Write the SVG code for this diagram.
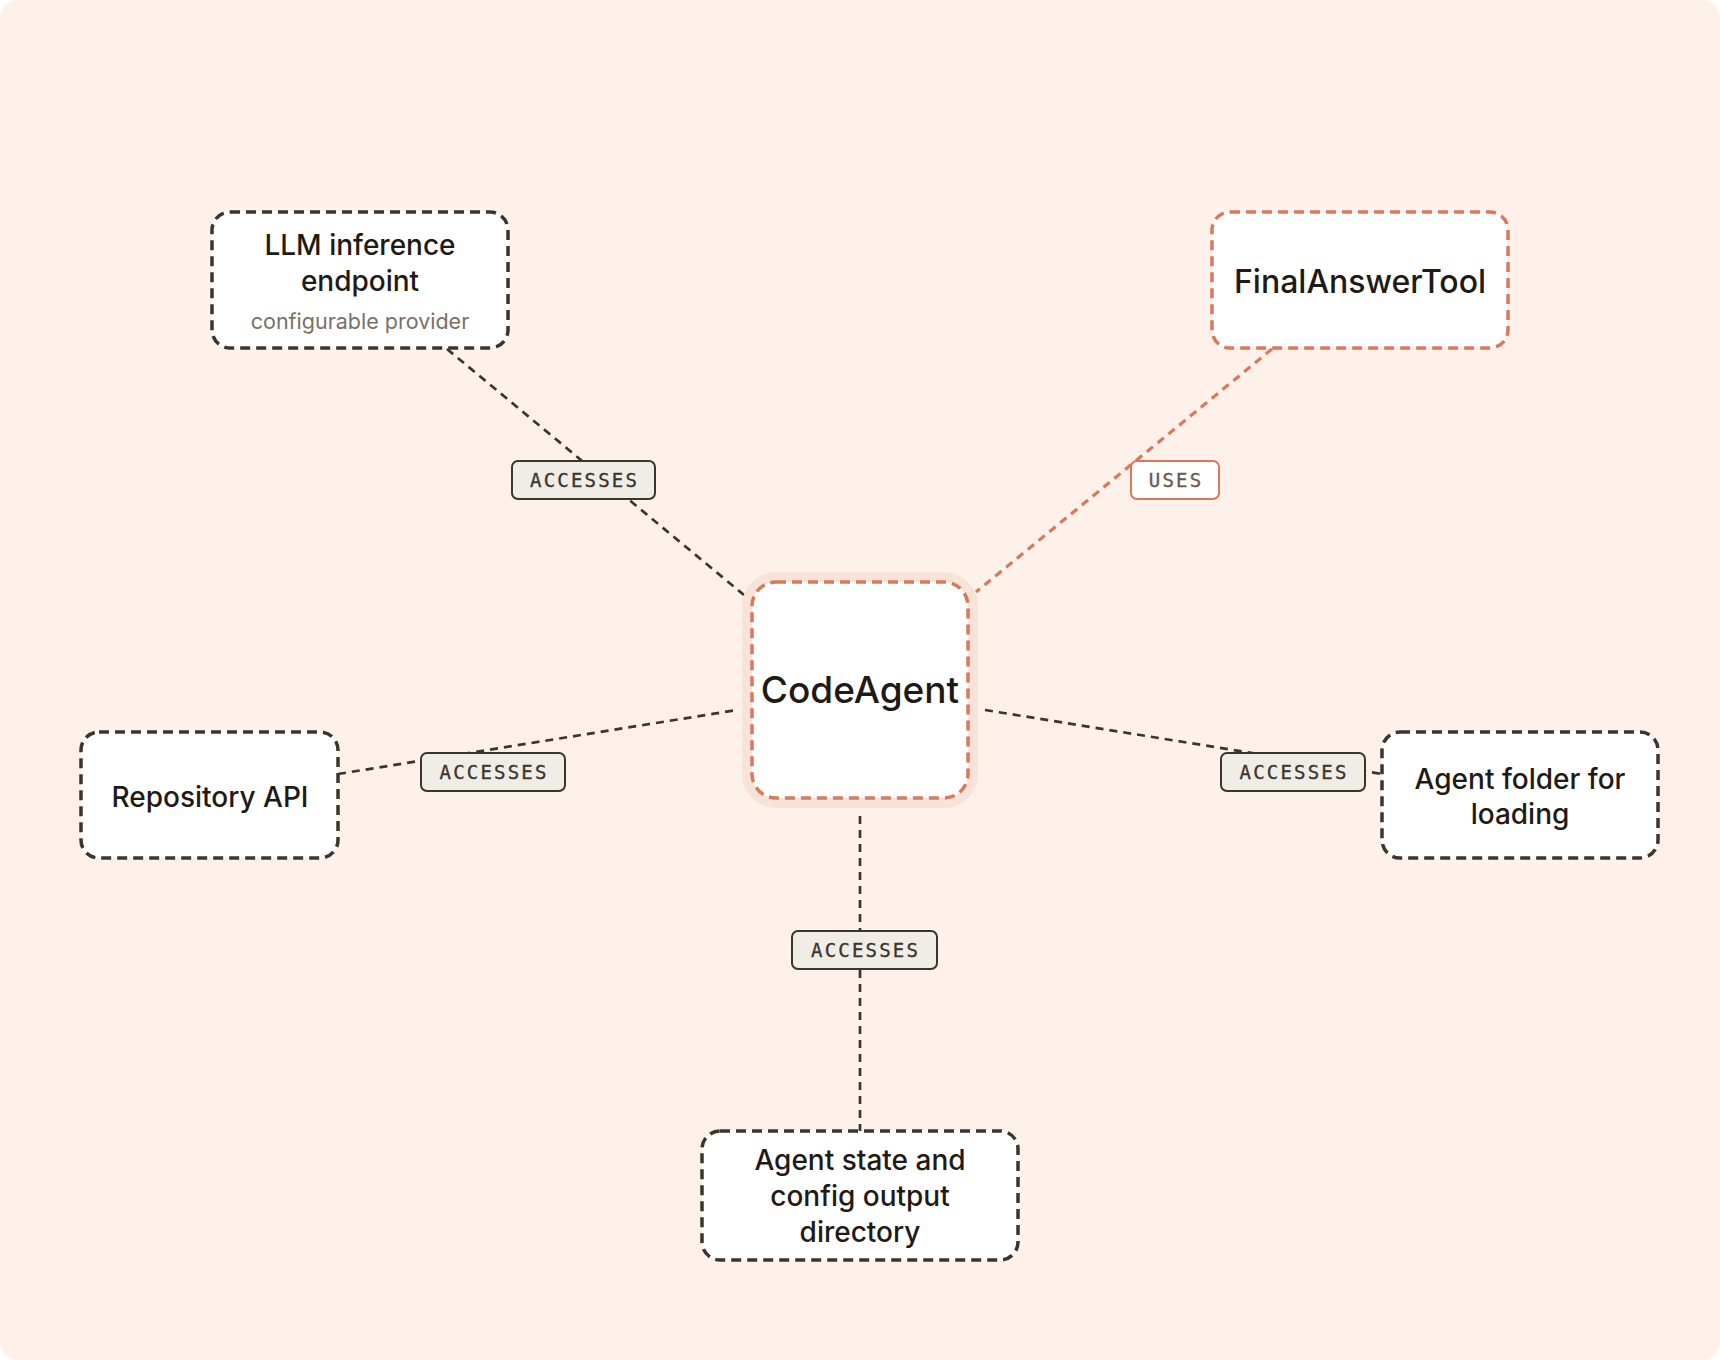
<svg xmlns="http://www.w3.org/2000/svg" width="1720" height="1360" viewBox="0 0 1720 1360">
<style>
.node{fill:#FFFFFF;stroke:#3A3530;stroke-width:3.5;stroke-dasharray:10 6}
.accent{stroke:#D9785A}
.t{font-family:Inter,"Noto Sans","Liberation Sans",sans-serif;font-weight:500;fill:#1F1A15;text-anchor:middle}
.sub{font-family:Inter,"Noto Sans","Liberation Sans",sans-serif;font-size:21.5px;fill:#7A7068;text-anchor:middle}
.edge{fill:none;stroke:#3A3530;stroke-width:2.7;stroke-dasharray:8 6}
.edge.o{stroke:#D9785A;stroke-width:3.2}
.lbl{fill:#F0EDE7;stroke:#3A3530;stroke-width:2}
.lbl.o{fill:#FFFFFF;stroke:#D9785A}
.lt{font-family:"DejaVu Sans Mono","Liberation Mono",monospace;font-size:19px;letter-spacing:2.2px;fill:#3A3530;text-anchor:middle;stroke:#3A3530;stroke-width:0.35}
.lt.o{fill:#6B5A50;stroke:#6B5A50}
</style>
<rect x="0" y="0" width="1720" height="1360" fill="#FFFFFF"/>
<rect x="0" y="0" width="1720" height="1360" rx="18" fill="#FEF1EA"/>
<g id="connectors">
<line class="edge" x1="447" y1="349" x2="744" y2="595"/>
<line class="edge o" x1="1272" y1="349" x2="976" y2="592"/>
<line class="edge" x1="338" y1="774" x2="737" y2="710"/>
<line class="edge" x1="985" y1="710" x2="1382" y2="774"/>
<line class="edge" x1="860" y1="816" x2="860" y2="1131"/>
<g id="label-llm"><rect class="lbl" x="512" y="461" width="143" height="38" rx="6"/><text class="lt" x="584.6" y="487">ACCESSES</text></g>
<g id="label-uses"><rect class="lbl o" x="1131" y="461" width="88" height="38" rx="6"/><text class="lt o" x="1176.1" y="487">USES</text></g>
<g id="label-repo"><rect class="lbl" x="421" y="753" width="144" height="38" rx="6"/><text class="lt" x="494.1" y="779">ACCESSES</text></g>
<g id="label-folder"><rect class="lbl" x="1221" y="753" width="144" height="38" rx="6"/><text class="lt" x="1294.1" y="779">ACCESSES</text></g>
<g id="label-state"><rect class="lbl" x="792" y="931" width="145" height="38" rx="6"/><text class="lt" x="865.6" y="957">ACCESSES</text></g>
</g>
<g id="node-llm">
<rect class="node" x="212" y="212" width="296" height="136" rx="18"/>
<text class="t" x="360" y="255" font-size="28">LLM inference</text>
<text class="t" x="360" y="291" font-size="28">endpoint</text>
<text class="sub" x="360" y="329">configurable provider</text>
</g>
<g id="node-final">
<rect class="node accent" x="1212" y="212" width="296" height="136" rx="18"/>
<text class="t" x="1360" y="293" font-size="32">FinalAnswerTool</text>
</g>
<g id="node-codeagent">
<rect x="742" y="572" width="236" height="236" rx="34" fill="#F8E3D9"/>
<rect class="node accent" x="752" y="582" width="216" height="216" rx="24"/>
<text class="t" x="860" y="703" font-size="37">CodeAgent</text>
</g>
<g id="node-repo">
<rect class="node" x="81" y="732" width="257" height="126" rx="18"/>
<text class="t" x="210" y="807" font-size="28">Repository API</text>
</g>
<g id="node-folder">
<rect class="node" x="1382" y="732" width="276" height="126" rx="18"/>
<text class="t" x="1520" y="789" font-size="28">Agent folder for</text>
<text class="t" x="1520" y="824" font-size="28">loading</text>
</g>
<g id="node-state">
<rect class="node" x="702" y="1131" width="316" height="129" rx="18"/>
<text class="t" x="860" y="1170" font-size="28">Agent state and</text>
<text class="t" x="860" y="1206" font-size="28">config output</text>
<text class="t" x="860" y="1242" font-size="28">directory</text>
</g>
</svg>
